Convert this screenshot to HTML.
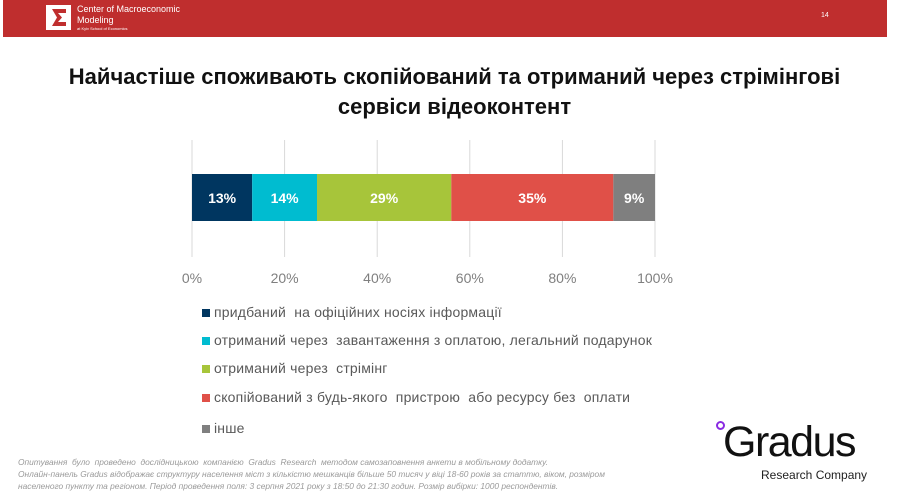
<!DOCTYPE html>
<html><head><meta charset="utf-8"><style>
body{margin:0;width:909px;height:504px;background:#fff;position:relative;overflow:hidden;font-family:"Liberation Sans",sans-serif}
.abs{position:absolute}
.leg{position:absolute;left:202px;font-size:14px;color:#595959;white-space:nowrap;letter-spacing:0.2px}
.leg span{display:inline-block;width:8px;height:8px;margin-right:4px;vertical-align:0px}
.note{position:absolute;left:18px;font-size:8.4px;font-style:italic;color:#9a9a9a;white-space:nowrap}
</style></head><body>
<div class="abs" style="left:3px;top:0;width:884px;height:37px;background:#bf2e2e"></div>
<svg class="abs" style="left:46px;top:5px" width="25" height="25"><rect width="25" height="25" fill="#fff"/><path d="M6 4H20V8H12L16 12.5L12 17H20V21H6L11 12.5Z" fill="#bf2e2e"/></svg>
<div class="abs" style="left:77px;top:4px;color:#fff;font-size:9px;line-height:11px">Center of Macroeconomic<br>Modeling<div style="font-size:4px;line-height:6px">at Kyiv School of Economics</div></div>
<div class="abs" style="left:821px;top:12px;color:#fff;font-size:7px">14</div>
<div class="abs" style="left:0;width:909px;top:62px;text-align:center;font-size:22px;font-weight:bold;color:#111;line-height:30px">Найчастіше споживають скопійований та отриманий через стрімінгові<br>сервіси відеоконтент</div>
<svg id="chart" class="abs" style="left:0;top:0" width="909" height="300"></svg>
<div class="leg" style="top:304px"><span style="background:#003660"></span>придбаний&nbsp; на офіційних носіях інформації</div>
<div class="leg" style="top:332px"><span style="background:#00bcd0"></span>отриманий через&nbsp; завантаження з оплатою, легальний подарунок</div>
<div class="leg" style="top:360px"><span style="background:#a7c53a"></span>отриманий через&nbsp; стрімінг</div>
<div class="leg" style="top:389px"><span style="background:#e05048"></span>скопійований з будь-якого&nbsp; пристрою&nbsp; або ресурсу без&nbsp; оплати</div>
<div class="leg" style="top:420px"><span style="background:#7f7f7f"></span>інше</div>
<div class="note" style="top:457px">Опитування&nbsp; було&nbsp; проведено&nbsp; дослідницькою&nbsp; компанією&nbsp; Gradus&nbsp; Research&nbsp; методом самозаповнення анкети в мобільному додатку.</div>
<div class="note" style="top:469px">Онлайн-панель Gradus відображає структуру населення міст з кількістю мешканців більше 50 тисяч у віці 18-60 років за статтю, віком, розміром</div>
<div class="note" style="top:481px">населеного пункту та регіоном. Період проведення поля: 3 серпня 2021 року з 18:50 до 21:30 годин. Розмір вибірки: 1000 респондентів.</div>
<div class="abs" style="left:723px;top:420px;font-size:43px;color:#111;letter-spacing:-1.5px;line-height:44px">Gradus</div>
<div class="abs" style="left:716px;top:421px;width:5px;height:5px;border:2px solid #8a2be2;border-radius:50%"></div>
<div class="abs" style="left:761px;top:468px;font-size:12px;color:#222">Research Company</div>
<script>
const categories=["придбаний на офіційних носіях інформації","отриманий через завантаження з оплатою","отриманий через стрімінг","скопійований","інше"];
const values=[13,14,29,35,9];
const tickValues=[0,20,40,60,80,100];
const tickLabels=["0%","20%","40%","60%","80%","100%"];
const colors=["#003660","#00bcd0","#a7c53a","#e05048","#7f7f7f"];
const svg=document.getElementById('chart');
const NS="http://www.w3.org/2000/svg";
const x=v=>192+v*(655-192)/100;
tickValues.forEach((t,i)=>{
  const l=document.createElementNS(NS,'line');
  l.setAttribute('x1',x(t));l.setAttribute('x2',x(t));l.setAttribute('y1',140);l.setAttribute('y2',257);
  l.setAttribute('stroke','#d9d9d9');l.setAttribute('stroke-width','1');
  
  
  svg.appendChild(l);
  const tx=document.createElementNS(NS,'text');
  tx.setAttribute('x',x(t));tx.setAttribute('y',283);tx.setAttribute('text-anchor','middle');
  tx.setAttribute('font-size','14');tx.setAttribute('fill','#7f7f7f');tx.setAttribute('font-family','Liberation Sans, sans-serif');
  tx.textContent=tickLabels[i];
  
  
  svg.appendChild(tx);
});
let acc=0;
values.forEach((v,i)=>{
  const r=document.createElementNS(NS,'rect');
  r.setAttribute('x',x(acc));r.setAttribute('width',x(acc+v)-x(acc));r.setAttribute('y',174);r.setAttribute('height',47);
  r.setAttribute('fill',colors[i]);
  
  
  svg.appendChild(r);
  const tx=document.createElementNS(NS,'text');
  tx.setAttribute('x',(x(acc)+x(acc+v))/2);tx.setAttribute('y',203);tx.setAttribute('text-anchor','middle');
  tx.setAttribute('font-size','14');tx.setAttribute('font-weight','bold');tx.setAttribute('fill','#fff');tx.setAttribute('font-family','Liberation Sans, sans-serif');
  tx.textContent=v+'%';
  
  
  svg.appendChild(tx);
  acc+=v;
});
</script>
</body></html>
